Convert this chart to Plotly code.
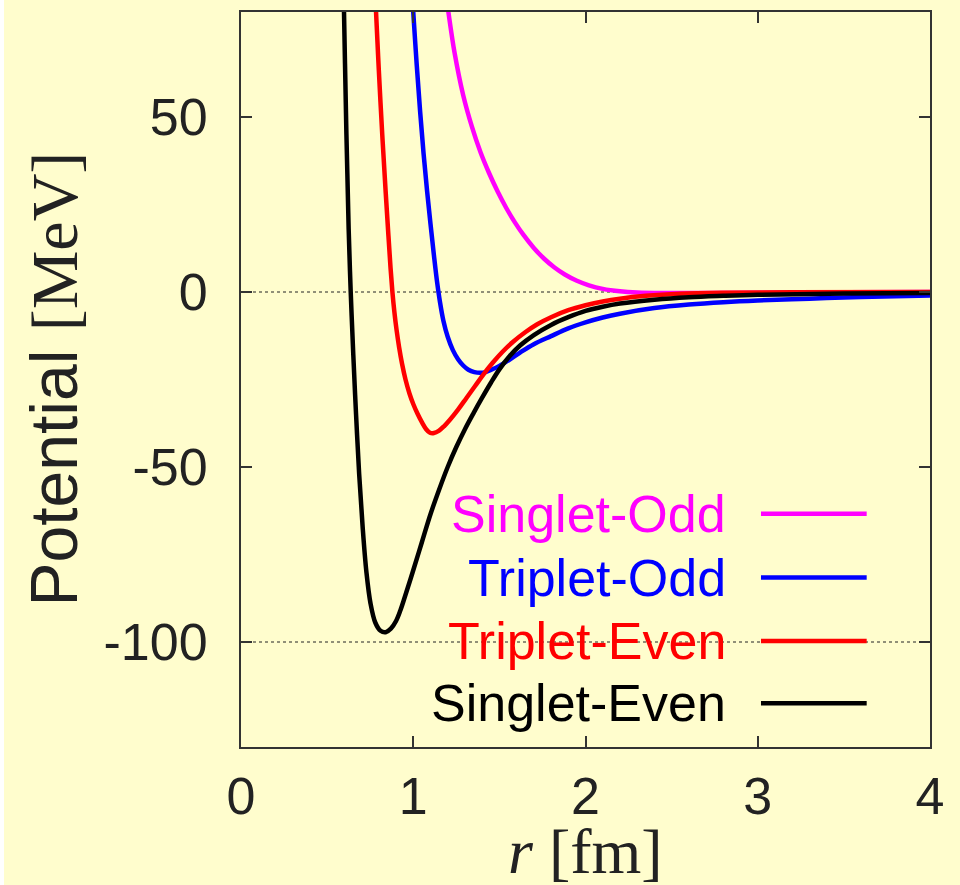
import plotly.graph_objects as go

# Nucleon-nucleon central potentials by spin/parity channel, V(r) in MeV vs r in fm
names = ["Singlet-Odd", "Triplet-Odd", "Triplet-Even", "Singlet-Even"]
colors = ["#ff00ff", "#0000ff", "#ff0000", "#000000"]

r_so = [1.19, 1.204, 1.24, 1.29, 1.34, 1.39, 1.44, 1.49, 1.54, 1.59, 1.64, 1.70,
        1.76, 1.82, 1.88, 1.95, 2.02, 2.1, 2.2, 2.3, 2.45, 2.7, 3.0, 3.5, 4.0]
v_so = [85.0, 80.0, 68.3, 56.2, 47.3, 40.0, 34.0, 28.7, 24.0, 19.9, 16.3, 12.6,
        9.5, 7.0, 5.0, 3.2, 1.9, 0.9, 0.2, -0.15, -0.3, -0.3, -0.2, -0.08, 0.0]

r_to = [0.99, 1.0, 1.02, 1.04, 1.06, 1.08, 1.10, 1.12, 1.138, 1.155, 1.175, 1.20,
        1.23, 1.26, 1.29, 1.32, 1.355, 1.39, 1.42, 1.45, 1.50, 1.56, 1.62, 1.70,
        1.80, 1.90, 2.0, 2.1, 2.2, 2.4, 2.6, 2.8, 3.0, 3.3, 3.6, 4.0]
v_to = [88.0, 80.0, 65.0, 51.5, 39.5, 29.0, 19.5, 10.5, 3.0, -2.8, -8.2, -12.8,
        -16.6, -19.2, -21.0, -22.2, -22.9, -23.1, -22.9, -22.3, -21.1, -19.3, -17.3, -14.9,
        -12.6, -10.4, -8.7, -7.3, -6.2, -4.6, -3.6, -2.9, -2.4, -1.9, -1.4, -1.0]

r_te = [0.775, 0.784, 0.80, 0.82, 0.84, 0.856, 0.868, 0.879, 0.89, 0.903, 0.918,
        0.935, 0.955, 0.978, 1.0, 1.025, 1.05, 1.075, 1.097, 1.12, 1.15, 1.18, 1.213,
        1.26, 1.31, 1.36, 1.41, 1.46, 1.52, 1.58, 1.65, 1.72, 1.80, 1.90, 2.0, 2.1,
        2.2, 2.35, 2.55, 2.8, 3.2, 4.0]
v_te = [90.0, 80.0, 63.5, 45.0, 28.5, 16.0, 7.0, 0.0, -5.5, -10.8, -15.8,
        -20.5, -25.0, -29.0, -32.0, -34.8, -37.2, -39.2, -40.2, -40.3, -39.6, -38.3, -36.5,
        -33.6, -30.2, -26.8, -23.4, -20.3, -17.0, -14.2, -11.5, -9.2, -7.2, -5.2, -3.8, -2.7,
        -1.9, -1.1, -0.5, -0.2, -0.05, 0.0]

r_se = [0.585, 0.598, 0.612, 0.625, 0.637, 0.652, 0.668, 0.686, 0.706, 0.728, 0.752,
        0.78, 0.81, 0.84, 0.87, 0.90, 0.925, 0.95, 1.0, 1.05, 1.10, 1.15, 1.20, 1.25,
        1.30, 1.35, 1.40, 1.45, 1.50, 1.56, 1.62, 1.70, 1.80, 1.90, 2.0, 2.1, 2.2,
        2.4, 2.6, 2.8, 3.0, 3.5, 4.0]
v_se = [112.0, 80.0, 45.0, 18.0, 0.0, -18.0, -35.0, -52.0, -67.0, -80.0, -89.0,
        -94.5, -96.8, -97.2, -96.2, -94.0, -91.0, -87.3, -79.5, -71.5, -63.5, -56.5, -50.0, -44.3,
        -39.2, -34.6, -30.2, -26.0, -22.1, -18.3, -15.3, -12.3, -9.4, -7.2, -5.4, -4.2, -3.3,
        -2.2, -1.5, -1.1, -0.8, -0.45, -0.3]

series_r = [r_so, r_to, r_te, r_se]
series_v = [v_so, v_to, v_te, v_se]

x_range = [0, 4]
y_range = [-130, 80]
x_ticks = [0, 1, 2, 3, 4]
x_ticktext = ["0", "1", "2", "3", "4"]
y_ticks = [-100, -50, 0, 50]
y_ticktext = ["-100", "-50", "0", "50"]
ref_levels = [0, -100]

bg = "#fffdcd"
axis_col = "#333333"
tick_font = dict(family="Liberation Sans, Arial, sans-serif", size=52, color="#222222")

fig = go.Figure()

for name, col, rr, vv in zip(names, colors, series_r, series_v):
    fig.add_trace(go.Scatter(
        x=rr, y=vv, mode="lines", name=name, showlegend=False,
        line=dict(color=col, width=4.5, shape="spline", smoothing=1.0),
    ))

# dotted reference levels
for lvl in ref_levels:
    fig.add_shape(type="line", xref="x", yref="y", x0=x_range[0], x1=x_range[1],
                  y0=lvl, y1=lvl, layer="below",
                  line=dict(color="#222222", width=1, dash="dot"))

# key: right-aligned label followed by a line sample
key_y = [0.3172, 0.2305, 0.1443, 0.0595]
for name, col, ky in zip(names, colors, key_y):
    fig.add_annotation(xref="paper", yref="paper", x=0.707, y=ky,
                       xanchor="right", yanchor="middle", text=name, showarrow=False,
                       font=dict(family="Liberation Sans, Arial, sans-serif", size=52, color=col))
    fig.add_shape(type="line", xref="paper", yref="paper", x0=0.7547, x1=0.9081,
                  y0=ky, y1=ky, line=dict(color=col, width=4.5))

# axis titles
fig.add_annotation(xref="paper", yref="paper", x=0, y=0.5, xanchor="center", yanchor="middle",
                   xshift=-188, textangle=-90, showarrow=False,
                   text='Potential <span style="font-family:Liberation Serif">[MeV]</span>',
                   font=dict(family="Liberation Sans, Arial, sans-serif", size=66, color="#222222"))
fig.add_annotation(xref="paper", yref="paper", x=0.5, y=0, xanchor="center", yanchor="top",
                   yshift=-67, showarrow=False,
                   text="<i>r</i> [fm]",
                   font=dict(family="Liberation Serif, Times New Roman, serif", size=64, color="#222222"))

# thin white edge on the left border
fig.add_shape(type="rect", xref="paper", yref="paper", x0=-241 / 689, x1=-237 / 689,
              y0=-0.2, y1=1.05, fillcolor="#ffffff", line=dict(width=0), layer="below")

axis_common = dict(
    showline=True, linecolor=axis_col, linewidth=2, mirror="ticks",
    ticks="inside", ticklen=11, tickwidth=2, tickcolor=axis_col,
    showgrid=False, zeroline=False, tickfont=tick_font,
)

fig.update_xaxes(range=x_range, tickmode="array", tickvals=x_ticks, ticktext=x_ticktext,
                 ticklabelstandoff=3, **axis_common)
fig.update_yaxes(range=y_range, tickmode="array", tickvals=y_ticks, ticktext=y_ticktext,
                 ticklabelstandoff=21, **axis_common)

fig.update_layout(
    width=960, height=885,
    margin=dict(l=241, r=30, t=12, b=138, autoexpand=False),
    paper_bgcolor=bg, plot_bgcolor=bg,
    showlegend=False,
)

fig.write_html("out.html")
